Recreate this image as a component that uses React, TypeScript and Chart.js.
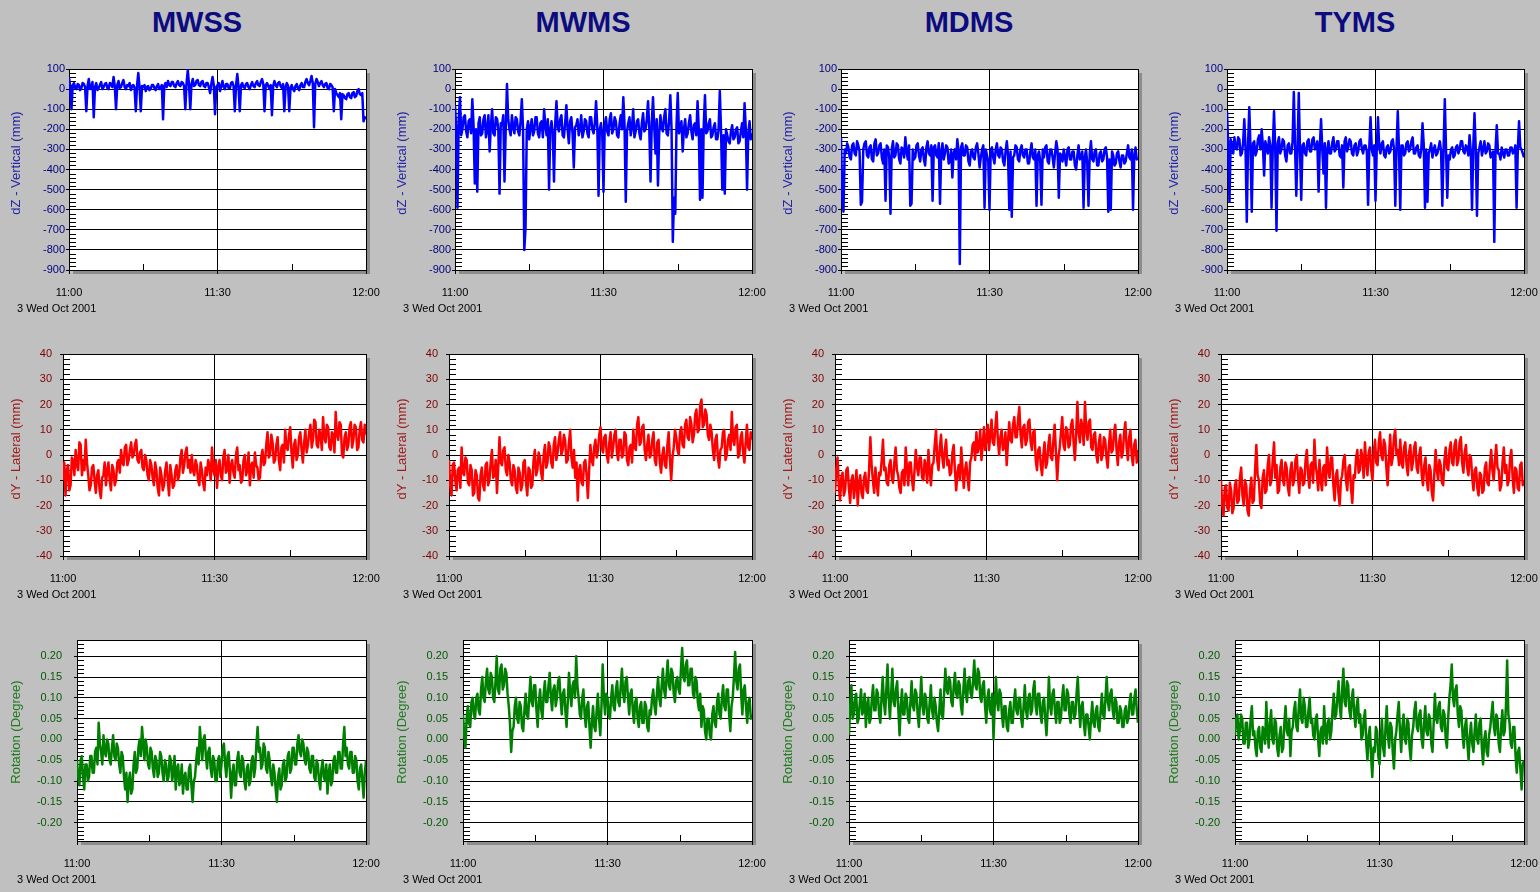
import React, { useEffect, useRef } from "react";
import { Chart, registerables } from "chart.js";

Chart.register(...registerables);
Chart.defaults.font.family = "'Liberation Sans', Arial, sans-serif";

// ---------- data ----------
const stations = ["MWSS", "MWMS", "MDMS", "TYMS"];
const timeLabels = ["11:00", "11:30", "12:00"];
const timeTickMinutes = [0, 30, 60];
const timeMinorMinutes = [15, 45];
const dateLabel = "3 Wed Oct 2001";
const spanMinutes = 60;

const dzTicks = [100, 0, -100, -200, -300, -400, -500, -600, -700, -800, -900];
const dyTicks = [40, 30, 20, 10, 0, -10, -20, -30, -40];
const rotTicks = [0.2, 0.15, 0.1, 0.05, 0, -0.05, -0.1, -0.15, -0.2];

const dzMWSS = [60,10, -100,20, 30,5, 0,25, 20,-5, 5,30, 25,10, -110,15, 50,0, 10,35, -140,10, 30,-5, 5,20, 35,0, 10,25, 30,5, 0,30, 25,10, 60,15, -100,20,
  40,5, 10,30, 45,10, 0,20, 15,30, -5,15, 20,5, -110,20, 80,10, -110,15, 10,20, -10,10, 15,-5, 0,20, 20,5, -5,15, 25,0, 5,20, -150,15, 30,10,
  40,20, 15,35, 35,15, 10,30, 40,20, 15,35, 30,15, -100,30, 95,20, -100,25, 50,15, 20,40, 45,20, 15,35, 40,15, 10,30, 30,10, -20,25, 60,20, -125,10,
  20,30, -10,15, 40,10, 0,25, 25,5, 5,30, 35,15, -110,20, 75,10, -110,20, 30,10, 5,25, 30,10, 0,20, 35,15, 10,30, 40,20, 15,35, 50,25, -110,20,
  30,15, 0,20, -130,15, 40,20, 10,30, 35,15, 5,25, -110,10, 30,15, -110,5, 20,0, -10,15, 25,5, -5,20, 30,10, 10,35, 50,30, 20,40, 65,30, -190,25,
  50,35, 15,30, 40,20, 10,25, 30,5, 0,25, 20,10, -110,0, -20,-30, -40,-20, -150,-25, -30,-45, -50,-25, -20,-40, -45,-20, -15,-40, -35,-10, 0,-25, -30,-20, -160,-140, -150];

const dzMWMS = [-80,-200, -590,-150, -40,-230, -200,-140, -130,-210, -240,-160, -150,-220, -50,-180, -470,-200, -510,-170, -140,-230, -220,-150, -130,-240, -200,-130, -310,-180, -100,-220, -230,-140, -150,-200, -520,-170, -180,-130,
  -460,-200, 25,-150, -200,-230, -130,-190, -220,-140, -150,-210, -230,-160, -50,-200, -800,-690, -200,-160, -250,-190, -150,-230, -210,-140, -140,-220, -240,-170, -160,-240, -100,-180, -230,-150, -500,-200, -160,-220,
  -460,-170, -60,-190, -210,-150, -130,-230, -240,-170, -80,-200, -270,-160, -140,-220, -390,-190, -180,-150, -230,-200, -130,-240, -210,-150, -160,-220, -240,-140, -140,-200, -220,-170, -60,-190, -530,-200, -170,-230,
  -510,-180, -140,-210, -230,-150, -120,-220, -200,-140, -160,-230, -240,-170, -130,-200, -40,-180, -560,-210, -170,-140, -230,-190, -100,-240, -210,-160, -150,-220, -250,-170, -120,-210, -200,-150, -60,-200, -460,-170,
  -40,-190, -320,-150, -480,-220, -130,-190, -210,-140, -100,-220, -230,-160, -30,-200, -760,-540, -620,-180, -20,-220, -200,-160, -310,-200, -150,-240, -220,-170, -130,-210, -250,-180, -170,-230, -60,-200, -550,-200,
  -540,-180, -30,-220, -210,-170, -150,-240, -230,-190, -170,-250, -250,-200, -10,-210, -500,-230, -520,-200, -230,-260, -270,-210, -180,-250, -240,-200, -190,-270, -260,-210, -170,-240, -70,-200, -500,-220, -160,-250, -220];

const dzMDMS = [-240,-530, -610,-300, -320,-270, -290,-340, -350,-280, -270,-320, -330,-260, -280,-310, -575,-560, -300,-270, -260,-330, -340,-290, -280,-350, -360,-270, -250,-330, -320,-280, -270,-340, -370,-300, -555,-280, -290,-340,
  -620,-300, -260,-340, -330,-270, -280,-350, -370,-290, -300,-340, -240,-310, -350,-280, -580,-570, -300,-350, -340,-280, -270,-330, -360,-300, -290,-350, -380,-290, -260,-320, -330,-280, -555,-290, -280,-330, -340,-270,
  -570,-310, -270,-350, -320,-280, -290,-370, -360,-300, -440,-320, -300,-350, -250,-310, -870,-290, -270,-330, -330,-280, -290,-360, -380,-310, -300,-340, -350,-290, -270,-320, -390,-340, -300,-280, -590,-300, -330,-360,
  -600,-300, -290,-340, -370,-300, -270,-330, -340,-290, -300,-360, -380,-310, -260,-330, -600,-310, -635,-340, -330,-280, -290,-350, -360,-300, -280,-330, -340,-300, -300,-370, -370,-310, -270,-340, -350,-300, -580,-330,
  -310,-360, -575,-300, -340,-290, -280,-360, -370,-300, -300,-340, -390,-320, -260,-300, -540,-320, -330,-360, -300,-340, -380,-300, -290,-350, -350,-310, -310,-380, -400,-330, -280,-350, -340,-310, -590,-340, -300,-370,
  -580,-320, -260,-350, -360,-310, -300,-380, -380,-320, -310,-360, -350,-300, -290,-340, -610,-350, -600,-310, -330,-380, -370,-320, -310,-360, -390,-330, -330,-370, -360,-320, -280,-340, -350,-300, -600,-330, -290,-350, -340];

const dzTYMS = [-110,-290, -560,-250, -280,-320, -240,-290, -300,-240, -250,-330, -320,-270, -150,-300, -660,-280, -90,-300, -610,-270, -260,-330, -310,-250, -230,-300, -200,-280, -430,-260, -290,-320, -240,-280, -590,-290, -110,-300,
  -705,-270, -240,-320, -300,-250, -260,-330, -360,-280, -270,-320, -320,-260, -15,-290, -530,-300, -20,-310, -550,-280, -270,-320, -330,-260, -250,-310, -310,-250, -240,-300, -290,-260, -510,-290, -150,-300, -420,-270,
  -590,-300, -260,-320, -320,-270, -240,-310, -300,-260, -260,-330, -340,-280, -490,-260, -240,-310, -290,-250, -260,-320, -330,-280, -270,-330, -310,-260, -250,-300, -320,-280, -280,-310, -575,-290, -140,-300, -330,-280,
  -555,-300, -140,-290, -320,-270, -260,-330, -340,-290, -280,-320, -310,-260, -250,-300, -580,-290, -110,-310, -600,-280, -280,-330, -320,-270, -260,-310, -300,-260, -240,-320, -320,-290, -280,-330, -340,-300, -170,-280,
  -590,-300, -560,-320, -300,-270, -340,-300, -280,-330, -320,-290, -260,-310, -580,-300, -50,-300, -540,-330, -350,-300, -290,-340, -330,-290, -280,-320, -300,-260, -260,-310, -320,-280, -290,-330, -230,-310, -600,-290,
  -120,-300, -630,-320, -290,-260, -330,-300, -260,-320, -310,-270, -280,-340, -330,-310, -760,-300, -180,-320, -320,-350, -290,-320, -340,-300, -300,-330, -330,-290, -290,-320, -310,-280, -590,-300, -160,-290, -300,-320, -340];

const dyMWSS = [-10,-3, -16,-6, -4,-14, -12,-1, -2,-8, 2,-4, -6,5, 4,-8, -2,-6, 6,-3, -8,-14, -12,-5, -4,-10, -15,-8, -6,-14, -17,-9, -8,-3, -12,-6, -3,-10, -14,-4,
  -6,-12, -10,-3, -2,-7, 2,-3, -4,3, 4,-4, -2,2, 5,-1, 0,4, 6,-2, -3,1, 2,-5, -6,0, -2,-8, -10,-2, -4,-9, -12,-3, -6,-13, -16,-5, -8,-14,
  -12,-6, -3,-10, -16,-4, -8,-13, -12,-6, -4,-10, -8,-1, 2,-7, -4,1, 3,-5, -2,-7, 0,-6, -8,-2, -4,-10, -12,-3, -6,-11, -14,-5, -8,-2, -4,-10, 3,-6,
  -8,-2, -13,-5, -2,-8, -10,-1, 2,-7, -6,0, -11,-4, -2,-7, -9,0, 3,-6, -4,-11, -10,-2, 0,-8, -6,1, -12,-4, -3,-9, 1,-4, -5,-10, -9,-1, 2,-4,
  -3,4, 9,-1, 0,8, 5,-3, -2,4, 7,-2, -6,3, 4,-3, 10,3, 2,8, 11,1, -5,4, 6,-2, 0,7, 9,2, -3,5, 10,1, 4,9, 12,3, 6,14,
  13,4, 3,10, 8,2, 15,7, 5,12, 11,3, 2,9, 8,1, 17,8, 6,13, 12,0, -1,7, 9,2, 4,11, 13,3, 6,12, 11,2, 3,10, 13,6, 5,12, 8];

const dyMWMS = [-2,-12, -16,-4, -3,-10, -14,-6, -5,-13, 3,-7, -8,-1, -2,-11, -12,-4, -6,-16, -15,-6, -8,-17, -18,-8, -5,-12, -14,-4, -3,-12, -10,-3, 2,-9, -8,-2, -15,-5,
  7,-3, -4,2, 3,-6, -8,0, -3,-10, -12,-4, -6,-13, -15,-5, -7,-14, -12,-3, -2,-11, -16,-5, -6,-13, -12,-2, 2,-8, -6,1, -1,-7, -10,0, 4,-5, -3,5,
  3,-3, -5,4, 7,-2, 1,6, 9,0, 2,8, 6,-3, -2,5, 10,-1, -5,2, -9,-3, -18,-6, -4,-11, -12,-3, -2,-8, -17,-6, 4,-2, -4,3, 6,-1, 2,8,
  11,3, 1,7, 8,0, -3,5, 9,-1, 3,8, 10,1, -2,6, 6,-1, 0,9, 8,-2, -4,3, 4,-3, 10,3, 2,12, 15,4, 5,11, 12,2, -2,4, 8,-1,
  0,6, 9,-2, -4,5, 6,-3, -7,0, 3,-4, -5,4, 9,-2, -10,-1, 3,10, 7,2, 0,9, 11,4, 3,12, 14,7, 6,15, 12,5, 8,16, 18,9, 10,20,
  22,11, 12,18, 16,8, 6,12, 9,2, -2,6, 8,-1, -5,2, 3,9, 10,-2, 0,6, 8,2, 17,6, 4,11, 12,-1, 0,7, 9,1, -3,5, 12,3, 2,9, 6];

const dyMDMS = [-15,-6, -1,-12, -18,-9, -7,-16, -14,-6, -5,-13, -19,-10, -8,-17, -12,-6, -20,-11, -8,-15, -17,-9, -7,-14, -15,-6, 7,-4, -10,-15, -5,-11, -16,-7, -8,-2, 6,-6,
  -5,-11, -12,-4, -2,-9, -11,-3, 3,-6, -8,-13, -15,-7, -6,-12, 3,-5, -12,-3, -3,-10, -14,-6, 2,-5, -8,-1, -1,-9, -10,-2, -4,-11, 2,-6, -12,-4, -3,4,
  10,-2, -6,3, 8,-1, -5,2, 6,-4, -2,-8, -7,1, 4,-6, -14,-7, -4,-10, 3,-5, -13,-6, -3,-9, -14,-3, -1,4, 5,-2, 9,1, 3,10, -2,4, 11,2,
  6,12, 2,8, 14,5, 4,11, 17,6, 0,7, 10,2, 3,9, -4,5, 13,6, 5,12, 15,7, 7,14, 19,8, 3,11, 12,4, 6,13, 14,5, 2,9, 10,-2,
  -6,2, 3,-4, -8,0, 5,-5, -3,4, 8,-1, -2,6, 12,1, -10,-1, 3,9, 15,4, 2,11, 10,3, 4,12, 14,5, -2,8, 21,9, 5,14, 11,4, 21,10,
  6,13, 14,3, 2,8, 9,0, -3,5, 8,-2, 0,7, 6,-1, -5,4, 10,1, 2,9, 12,2, -4,5, 8,-1, 1,9, 13,3, -2,7, 10,0, -4,4, 6,-3, 2];

const dyTYMS = [-10,-20, -24,-13, -12,-21, -22,-11, -14,-23, -21,-12, -10,-19, -18,-9, -5,-16, -20,-10, -12,-22, -24,-14, -9,-19, -18,-6, 4,-8, -10,-19, -21,-9, -6,-15, -14,-4, 0,-12,
  -10,-2, 5,-9, -4,-15, -14,-5, -2,-10, -12,-3, -5,-13, -16,-6, -3,-12, -10,-2, 0,-9, -15,-5, -6,-12, -11,-2, 2,-8, -13,-4, -3,-11, 6,-4, -8,-14, -2,-10,
  -14,-5, -4,-12, 3,-6, -9,-1, -1,-12, -18,-8, -6,-15, -20,-10, -8,-2, 0,-10, -14,-5, -4,-13, -19,-8, -9,-1, 2,-7, -6,2, -1,-9, 5,-3, -8,1, 3,-6,
  -10,1, 6,-3, -4,5, 9,0, -2,6, 4,-5, -12,-1, 8,-4, -1,7, 10,0, 2,-4, 6,-3, -5,3, 5,-4, -8,1, 4,-6, -3,3, 5,-5, -7,0, 3,-8,
  -12,-4, -1,-10, -14,-4, -6,-15, -18,-7, 2,-6, -10,-2, -4,-11, -12,-2, 3,-5, -6,2, 5,-3, -4,4, 6,-4, -2,5, 7,-3, -7,1, 4,-5, -8,0, -1,-9,
  -14,-6, -5,-13, -16,-7, -8,-15, -14,-5, -3,-11, -12,-4, 2,-6, -10,-2, 4,-5, -6,-14, -12,-3, 3,-7, -4,-12, -10,-1, 2,-9, -15,-5, -6,-13, -14,-4, -3,-12, -10];

const rotMWSS = [-0.05,-0.09, -0.11,-0.05, -0.04,-0.09, -0.12,-0.06, -0.06,-0.1, -0.09,-0.04, -0.04,-0.08, -0.08,-0.03, -0.02,-0.06, 0.04,-0.01, -0.03,-0.06, 0.01,-0.03, -0.04,0.0, -0.01,-0.05, -0.06,-0.02, 0.01,-0.04, -0.05,-0.01, -0.02,-0.06, -0.08,-0.03, -0.04,-0.09,
  -0.12,-0.08, -0.15,-0.1, -0.08,-0.13, -0.12,-0.06, -0.03,-0.08, -0.07,-0.02, 0.0,-0.04, 0.03,-0.01, -0.05,0.0, -0.02,-0.06, -0.07,-0.02, -0.03,-0.07, -0.09,-0.04, -0.05,-0.09, -0.08,-0.03, -0.04,-0.08, -0.1,-0.05, -0.06,-0.1, -0.09,-0.04, -0.05,-0.1,
  -0.08,-0.04, -0.12,-0.07, -0.06,-0.11, -0.1,-0.06, -0.13,-0.09, -0.08,-0.12, -0.12,-0.07, -0.06,-0.11, -0.15,-0.1, -0.09,-0.05, -0.02,-0.06, 0.03,-0.01, -0.05,0.0, 0.01,-0.04, -0.07,-0.03, -0.02,-0.07, -0.09,-0.04, -0.05,-0.1, -0.1,-0.05, -0.04,-0.09,
  -0.06,-0.02, -0.01,-0.06, -0.09,-0.04, -0.03,-0.08, -0.14,-0.08, -0.06,-0.11, -0.11,-0.05, -0.03,-0.08, -0.09,-0.04, -0.05,-0.1, -0.12,-0.07, -0.06,-0.11, -0.1,-0.05, -0.04,-0.09, -0.07,-0.01, 0.03,-0.03, -0.02,-0.07, -0.06,-0.01, -0.02,-0.07, -0.08,-0.03,
  -0.05,-0.09, -0.11,-0.06, -0.08,-0.12, -0.15,-0.09, -0.07,-0.12, -0.11,-0.06, -0.05,-0.1, -0.09,-0.04, -0.03,-0.08, -0.07,-0.02, -0.02,-0.06, -0.06,-0.01, 0.01,-0.03, -0.04,0.0, -0.01,-0.05, -0.06,-0.02, -0.03,-0.07, -0.08,-0.04, -0.04,-0.09, -0.1,-0.05,
  -0.06,-0.1, -0.12,-0.07, -0.05,-0.09, -0.1,-0.06, -0.13,-0.08, -0.06,-0.11, -0.1,-0.05, -0.04,-0.08, -0.08,-0.03, -0.03,-0.07, -0.07,-0.01, 0.03,-0.04, -0.02,-0.06, -0.07,-0.03, -0.03,-0.08, -0.08,-0.04, -0.05,-0.1, -0.12,-0.07, -0.06,-0.1, -0.14,-0.08, -0.05];

const rotMWMS = [0.06,0.01, -0.02,0.05, 0.08,0.04, 0.03,0.09, 0.1,0.06, 0.05,0.1, 0.11,0.07, 0.06,0.12, 0.15,0.1, 0.09,0.14, 0.17,0.12, 0.11,0.16, 0.15,0.1, 0.09,0.14, 0.2,0.12, 0.11,0.17, 0.18,0.12, 0.13,0.17, 0.16,0.11, 0.08,0.04,
  -0.03,0.02, 0.03,0.08, 0.1,0.05, 0.04,0.09, 0.08,0.03, 0.02,0.07, 0.11,0.06, 0.05,0.1, 0.15,0.09, 0.08,0.13, 0.13,0.07, 0.03,0.09, 0.12,0.07, 0.05,0.11, 0.14,0.09, 0.09,0.13, 0.16,0.1, 0.07,0.12, 0.13,0.08, 0.1,0.14,
  0.15,0.1, 0.06,0.11, 0.12,0.07, 0.03,0.09, 0.16,0.11, 0.08,0.13, 0.14,0.1, 0.2,0.13, 0.1,0.06, 0.05,0.1, 0.12,0.06, 0.03,0.08, 0.09,0.03, -0.02,0.04, 0.08,0.03, 0.02,0.07, 0.11,0.05, 0.01,0.08, 0.18,0.1, 0.06,0.11,
  0.1,0.06, 0.05,0.1, 0.13,0.08, 0.07,0.12, 0.14,0.09, 0.08,0.13, 0.17,0.11, 0.09,0.14, 0.15,0.1, 0.06,0.11, 0.12,0.07, 0.04,0.09, 0.1,0.05, 0.03,0.08, 0.09,0.04, 0.04,0.09, 0.08,0.03, 0.02,0.07, 0.06,0.1, 0.12,0.08,
  0.06,0.11, 0.15,0.1, 0.08,0.13, 0.17,0.12, 0.1,0.15, 0.19,0.13, 0.12,0.17, 0.16,0.11, 0.09,0.14, 0.15,0.12, 0.11,0.17, 0.22,0.15, 0.14,0.18, 0.19,0.13, 0.13,0.17, 0.17,0.11, 0.1,0.15, 0.14,0.09, 0.07,0.11, 0.03,0.08,
  0.07,0.02, 0.0,0.05, 0.05,0.01, 0.0,0.06, 0.08,0.04, 0.03,0.09, 0.11,0.06, 0.05,0.1, 0.13,0.08, 0.07,0.12, 0.12,0.06, 0.02,0.08, 0.1,0.15, 0.21,0.14, 0.12,0.17, 0.18,0.11, 0.06,0.12, 0.13,0.08, 0.04,0.09, 0.1,0.05, 0.06];

const rotMDMS = [0.01,0.08, 0.13,0.05, 0.06,0.1, 0.11,0.04, 0.05,0.09, 0.12,0.06, 0.07,0.11, 0.03,0.08, 0.1,0.04, 0.05,0.1, 0.13,0.07, 0.07,0.12, 0.11,0.06, 0.04,0.1, 0.15,0.09, 0.06,0.12, 0.18,0.1, 0.05,0.11, 0.17,0.09, 0.08,0.12,
  0.14,0.07, 0.01,0.08, 0.12,0.06, 0.06,0.11, 0.1,0.05, 0.04,0.09, 0.14,0.08, 0.07,0.12, 0.11,0.06, 0.03,0.09, 0.15,0.08, 0.06,0.11, 0.1,0.05, 0.04,0.09, 0.13,0.07, 0.05,0.1, 0.08,0.04, 0.02,0.07, 0.12,0.06, 0.05,0.11,
  0.17,0.12, 0.11,0.15, 0.14,0.09, 0.08,0.13, 0.16,0.11, 0.1,0.14, 0.13,0.08, 0.06,0.12, 0.17,0.11, 0.09,0.14, 0.15,0.11, 0.1,0.14, 0.19,0.13, 0.12,0.17, 0.16,0.1, 0.09,0.13, 0.14,0.08, 0.04,0.1, 0.12,0.07, 0.06,0.11,
  0.0,0.08, 0.15,0.09, 0.07,0.12, 0.11,0.06, 0.03,0.08, 0.08,0.03, 0.02,0.07, 0.09,0.04, 0.04,0.09, 0.12,0.07, 0.06,0.1, 0.1,0.05, 0.03,0.08, 0.13,0.07, 0.05,0.1, 0.11,0.06, 0.07,0.12, 0.14,0.08, 0.06,0.11, 0.11,0.06,
  0.04,0.09, 0.1,0.05, 0.01,0.07, 0.15,0.08, 0.06,0.11, 0.12,0.07, 0.04,0.09, 0.09,0.04, 0.05,0.1, 0.13,0.07, 0.07,0.12, 0.11,0.06, 0.04,0.09, 0.09,0.05, 0.06,0.11, 0.15,0.08, 0.03,0.08, 0.09,0.04, 0.01,0.06, 0.06,0.03,
  0.0,0.05, 0.09,0.04, 0.03,0.07, 0.08,0.03, 0.02,0.07, 0.11,0.06, 0.05,0.1, 0.15,0.09, 0.07,0.11, 0.12,0.07, 0.05,0.1, 0.09,0.04, 0.04,0.08, 0.07,0.03, 0.03,0.07, 0.08,0.04, 0.05,0.09, 0.11,0.06, 0.06,0.1, 0.12,0.07, 0.04];

const rotTYMS = [0.01,0.05, 0.06,0.0, 0.02,0.06, 0.05,-0.01, -0.01,0.04, 0.04,-0.02, 0.0,0.05, 0.08,0.01, 0.02,-0.02, -0.04,0.02, 0.03,-0.02, -0.03,0.03, 0.02,-0.01, 0.09,0.02, -0.02,0.04, 0.07,0.0, -0.01,0.05, 0.04,-0.02, -0.04,0.01, 0.03,-0.03,
  -0.02,0.04, 0.08,0.02, 0.01,0.05, -0.04,0.02, 0.03,0.07, 0.09,0.03, 0.02,0.08, 0.12,0.05, 0.04,0.1, 0.08,0.03, 0.03,0.07, 0.1,0.04, 0.05,0.01, 0.0,0.05, 0.06,0.0, -0.04,0.02, 0.03,-0.01, 0.08,0.02, -0.01,0.04, 0.05,0.0,
  0.02,0.07, 0.11,0.05, 0.06,0.1, 0.14,0.08, 0.05,0.12, 0.17,0.09, 0.08,0.14, 0.13,0.07, 0.05,0.1, 0.12,0.06, 0.03,0.08, 0.1,0.04, 0.06,0.0, 0.01,0.05, 0.07,-0.01, -0.05,0.01, 0.03,-0.04, -0.09,-0.02, -0.03,0.03, 0.02,-0.04,
  -0.06,0.0, 0.05,-0.02, -0.04,0.03, 0.08,0.01, -0.02,0.04, 0.03,-0.03, -0.07,0.0, 0.02,0.06, 0.09,0.02, -0.03,0.03, 0.06,0.0, -0.01,0.05, 0.04,-0.02, -0.05,0.01, 0.03,0.07, 0.09,0.03, 0.02,0.06, 0.07,0.0, -0.02,0.04, 0.08,0.02,
  0.01,0.06, 0.05,-0.01, -0.03,0.04, 0.11,0.05, 0.04,0.08, 0.09,0.03, 0.02,0.07, 0.06,0.0, -0.02,0.05, 0.1,0.13, 0.18,0.1, 0.08,0.12, 0.13,0.06, 0.03,0.08, 0.07,0.01, -0.02,0.03, 0.05,-0.01, -0.05,0.01, 0.04,-0.01, -0.03,0.02,
  0.06,0.0, -0.01,0.04, 0.05,-0.02, -0.06,0.0, 0.02,-0.03, -0.04,0.01, 0.03,0.06, 0.09,0.03, 0.01,0.06, 0.05,-0.01, -0.03,0.03, 0.07,0.01, 0.02,0.08, 0.19,0.06, 0.04,-0.01, -0.02,0.03, 0.03,-0.04, -0.08,-0.03, -0.02,-0.07, -0.12,-0.06, -0.05];

// ---------- layout / style ----------
const colX = [0, 386, 772, 1158];
const PANEL_W = 386;
const PLOT_RIGHT = 366;
const FONT = "'Liberation Sans', Arial, sans-serif";

type RowCfg = {
  title: string;
  series: number[][];
  ticks: number[];
  min: number;
  max: number;
  minorStep: number;
  fmt: (v: number) => string;
  lineColor: string;
  tickColor: string;
  titleColor: string;
  oy: number;
  h: number;
  top: number;
  bottom: number;
  left: number;
  labelPad: number;
  titleCenterY: number;
};

const rows: RowCfg[] = [
  {
    title: "dZ - Vertical (mm)", series: [dzMWSS, dzMWMS, dzMDMS, dzTYMS], ticks: dzTicks,
    min: -900, max: 100, minorStep: 20, fmt: (v) => String(v),
    lineColor: "#0000ff", tickColor: "#000080", titleColor: "#2424a8",
    oy: 45, h: 275, top: 69, bottom: 270, left: 69, labelPad: 1, titleCenterY: 163,
  },
  {
    title: "dY - Lateral (mm)", series: [dyMWSS, dyMWMS, dyMDMS, dyTYMS], ticks: dyTicks,
    min: -40, max: 40, minorStep: 2, fmt: (v) => String(v),
    lineColor: "#ff0000", tickColor: "#800000", titleColor: "#a01c1c",
    oy: 330, h: 275, top: 354, bottom: 556, left: 63, labelPad: 8, titleCenterY: 449,
  },
  {
    title: "Rotation (Degree)", series: [rotMWSS, rotMWMS, rotMDMS, rotTYMS], ticks: rotTicks,
    min: -0.244, max: 0.239, minorStep: 0.01, fmt: (v) => v.toFixed(2),
    lineColor: "#008000", tickColor: "#005a00", titleColor: "#1f7a1f",
    oy: 615, h: 277, top: 640, bottom: 841, left: 77, labelPad: 12, titleCenterY: 732,
  },
];

function Panel({ row, col }: { row: RowCfg; col: number }) {
  const ref = useRef<HTMLCanvasElement>(null);
  useEffect(() => {
    const canvas = ref.current;
    if (!canvas) return;
    const values = row.series[col];
    const step = spanMinutes / (values.length - 1);
    const points = values.map((v, i) => ({ x: i * step, y: v }));

    const plugin = {
      id: "panelDeco",
      beforeDraw(chart: any) {
        const { ctx, chartArea: a } = chart;
        ctx.save();
        ctx.fillStyle = "#8c8c8c";
        ctx.fillRect(a.left + 4, a.top + 4, a.right - a.left, a.bottom - a.top);
        ctx.fillStyle = "#ffffff";
        ctx.fillRect(a.left, a.top, a.right - a.left, a.bottom - a.top);
        ctx.restore();
      },
      beforeDatasetsDraw(chart: any) {
        const { ctx, chartArea: a, scales } = chart;
        const ys = scales.y;
        const xs = scales.x;
        ctx.save();
        ctx.strokeStyle = "#000";
        ctx.lineWidth = 1;
        ctx.beginPath();
        ctx.moveTo(a.left, Math.round(a.top) + 0.5);
        ctx.lineTo(a.right, Math.round(a.top) + 0.5);
        const start = Math.ceil(row.min / row.minorStep - 1e-9);
        for (let k = start; k * row.minorStep <= row.max + 1e-9; k++) {
          const v = k * row.minorStep;
          const isMajor = row.ticks.some((t) => Math.abs(t - v) < row.minorStep / 10);
          if (isMajor) continue;
          const py = Math.round(ys.getPixelForValue(v)) + 0.5;
          ctx.moveTo(a.left, py);
          ctx.lineTo(a.left + 7, py);
        }
        timeMinorMinutes.forEach((m) => {
          const px = Math.round(xs.getPixelForValue(m)) + 0.5;
          ctx.moveTo(px, a.bottom);
          ctx.lineTo(px, a.bottom - 6);
        });
        ctx.stroke();
        ctx.restore();
      },
      afterDraw(chart: any) {
        const { ctx, chartArea: a } = chart;
        ctx.save();
        ctx.fillStyle = "#000";
        ctx.font = `11px ${FONT}`;
        ctx.textAlign = "left";
        ctx.textBaseline = "alphabetic";
        ctx.fillText(dateLabel, 17, a.bottom + 42);
        ctx.translate(16, row.titleCenterY - row.oy);
        ctx.rotate(-Math.PI / 2);
        ctx.fillStyle = row.titleColor;
        ctx.font = `13px ${FONT}`;
        ctx.textAlign = "center";
        ctx.textBaseline = "middle";
        ctx.fillText(row.title, 0, 0);
        ctx.restore();
      },
    };

    const chart = new Chart(canvas, {
      type: "line",
      data: {
        datasets: [
          {
            data: points,
            borderColor: row.lineColor,
            borderWidth: 2.5,
            pointRadius: 0,
            tension: 0,
            borderJoinStyle: "round",
            fill: false,
          },
        ],
      },
      options: {
        animation: false,
        responsive: false,
        maintainAspectRatio: false,
        devicePixelRatio: 1,
        events: [],
        layout: {
          padding: { left: 0, top: row.top - row.oy, right: PANEL_W - PLOT_RIGHT, bottom: 0 },
        },
        plugins: { legend: { display: false }, tooltip: { enabled: false }, title: { display: false } },
        scales: {
          x: {
            type: "linear",
            min: 0,
            max: spanMinutes,
            afterBuildTicks: (s: any) => {
              s.ticks = timeTickMinutes.map((v) => ({ value: v }));
            },
            afterFit: (s: any) => {
              s.height = row.h - (row.bottom - row.oy);
              s.paddingLeft = 0;
              s.paddingRight = 0;
            },
            ticks: {
              autoSkip: false,
              maxRotation: 0,
              color: "#000",
              font: { size: 11, family: FONT },
              padding: 12,
              callback: (v: any) => timeLabels[timeTickMinutes.indexOf(Number(v))] ?? "",
            },
            grid: {
              color: (c: any) => (c.tick && c.tick.value > 0 ? "#000" : "rgba(0,0,0,0)"),
              tickColor: "#000",
              tickLength: 4,
              lineWidth: 1,
            },
            border: { display: true, color: "#000", width: 1 },
          },
          y: {
            type: "linear",
            min: row.min,
            max: row.max,
            afterBuildTicks: (s: any) => {
              s.ticks = row.ticks.map((v) => ({ value: v }));
            },
            afterFit: (s: any) => {
              s.width = row.left;
              s.paddingTop = 0;
              s.paddingBottom = 0;
            },
            ticks: {
              autoSkip: false,
              color: row.tickColor,
              font: { size: 11, family: FONT },
              padding: row.labelPad,
              callback: (v: any) => row.fmt(Number(v)),
            },
            grid: { color: "#000", tickColor: "#000", tickLength: 3, lineWidth: 1 },
            border: { display: true, color: "#000", width: 1 },
          },
        },
      } as any,
      plugins: [plugin],
    });
    return () => chart.destroy();
  }, [row, col]);

  return (
    <canvas
      ref={ref}
      width={PANEL_W}
      height={row.h}
      style={{ position: "absolute", left: colX[col], top: row.oy, width: PANEL_W, height: row.h }}
    />
  );
}

export default function App() {
  return (
    <div
      style={{
        position: "fixed",
        left: 0,
        top: 0,
        width: 1540,
        height: 892,
        background: "#c0c0c0",
        overflow: "hidden",
      }}
    >
      {stations.map((s, c) => (
        <div
          key={s}
          style={{
            position: "absolute",
            left: colX[c],
            top: 8,
            width: 394,
            textAlign: "center",
            font: `bold 29px ${FONT}`,
            lineHeight: "29px",
            color: "#0c0c80",
          }}
        >
          {s}
        </div>
      ))}
      {rows.map((r, ri) =>
        stations.map((s, c) => <Panel key={`${ri}-${c}`} row={r} col={c} />)
      )}
    </div>
  );
}
